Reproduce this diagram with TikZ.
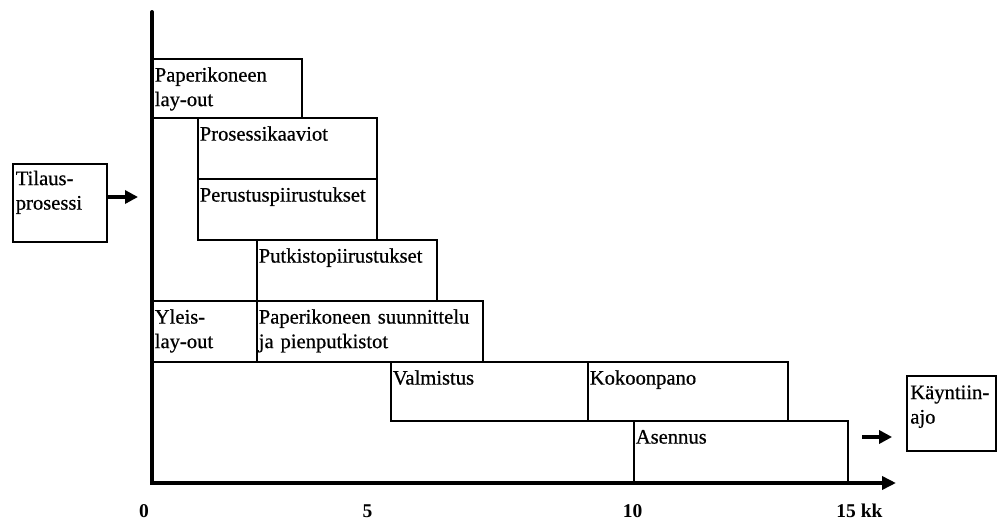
\documentclass[tikz,border=0pt]{standalone}
\usepackage{fontspec}
\setmainfont{Liberation Serif}[UprightFeatures={FakeBold=0.6}]
\usetikzlibrary{arrows.meta,fit}
\begin{document}
\begin{tikzpicture}[x=1pt,y=-1pt,
  phase/.style={draw, line width=1.8pt, inner sep=0pt},
  lbl/.style={anchor=base west, inner sep=0pt, align=left, text width=#1,
    font=\fontsize{20.6}{24.5}\selectfont},
  tick/.style={anchor=base, inner sep=0pt, font=\fontsize{19.5}{22}\selectfont\bfseries},
  axisline/.style={line width=4pt, line cap=round, line join=miter,
    -{Triangle[length=14pt,width=13pt]}},
  flow/.style={line width=3.6pt, -{Triangle[length=13pt,width=13pt]}}]
\useasboundingbox (0,0) rectangle (997,522);

% time axes
\coordinate (ytop) at (152,12);
\coordinate (origin) at (152,483);
\coordinate (xend) at (896,483);
\draw[axisline] (ytop) -- (origin) -- (xend);

% project phases
\node[phase, fit={(153,59) (302,118)}] (pl) {};
\node[phase, fit={(198,118) (377,179)}] (pk) {};
\node[phase, fit={(198,179) (377,240)}] (pp) {};
\node[phase, fit={(257,240) (437,301)}] (pt) {};
\node[phase, fit={(153,301) (257,362)}] (yl) {};
\node[phase, fit={(257,301) (483,362)}] (ps) {};
\node[phase, fit={(391,362) (588,421)}] (va) {};
\node[phase, fit={(588,362) (788,421)}] (ko) {};
\node[phase, fit={(634,421) (848,483)}] (as) {};
\node[phase, fit={(13,164) (107,242)}] (ti) {};
\node[phase, fit={(907,376) (996,451)}] (ka) {};

\node[lbl=140pt] (plT) at ([shift={(2.5,23.5)}]pl.north west) {Paperikoneen\\lay-out};
\node[lbl=170pt] (pkT) at ([shift={(2.5,23.5)}]pk.north west) {Prosessikaaviot};
\node[lbl=170pt] (ppT) at ([shift={(2.5,23.5)}]pp.north west) {Perustuspiirustukset};
\node[lbl=170pt] (ptT) at ([shift={(2.5,23.5)}]pt.north west) {Putkistopiirustukset};
\node[lbl=95pt]  (ylT) at ([shift={(2.5,23.5)}]yl.north west) {Yleis-\\lay-out};
\node[lbl=220pt] (psT) at ([shift={(2.5,23.5)}]ps.north west) {Paperikoneen suunnittelu\\ja pienputkistot};
\node[lbl=190pt] (vaT) at ([shift={(2.5,23.5)}]va.north west) {Valmistus};
\node[lbl=190pt] (koT) at ([shift={(2.5,23.5)}]ko.north west) {Kokoonpano};
\node[lbl=200pt] (asT) at ([shift={(2.5,23.5)}]as.north west) {Asennus};
\node[lbl=88pt]  (tiT) at ([shift={(3.5,22)}]ti.north west) {Tilaus-\\prosessi};
\node[lbl=86pt]  (kaT) at ([shift={(4,24)}]ka.north west) {Käyntiin-\\ajo};

% hand-over arrows
\coordinate (tiEnd) at (138,197);
\draw[flow] (tiEnd -| ti.east) -- (tiEnd);
\coordinate (kaStart) at (862,437);
\draw[flow, shorten >=14pt] (kaStart) -- (kaStart -| ka.west);

% month scale
\node[tick] (t0) at (144,517) {0};
\node[tick] (t5) at (367.5,517) {5};
\node[tick] (t10) at (632.5,517) {10};
\node[tick] (t15) at (859.5,517) {15 kk};
\end{tikzpicture}
\end{document}
